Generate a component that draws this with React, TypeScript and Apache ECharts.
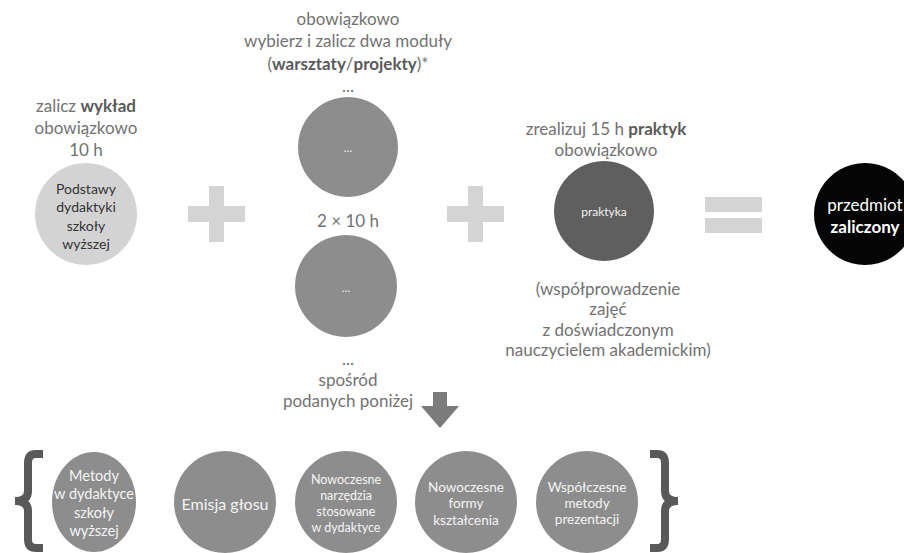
import React, { useEffect, useRef } from "react";
import * as echarts from "echarts";

// ---- data ----
const lectureLabel = ["zalicz {b|wykład}", "obowiązkowo", "10 h"];
const lectureCircle = ["Podstawy", "dydaktyki", "szkoły", "wyższej"];
const modulesLabel = ["obowiązkowo", "wybierz i zalicz dwa moduły", "({b|warsztaty}/{b|projekty})*", "..."];
const modulesMid = "2 × 10 h";
const moduleCircle = "...";
const modulesBelow = ["...", "spośród", "podanych poniżej"];
const practiceLabel = ["zrealizuj 15 h {b|praktyk}", "obowiązkowo"];
const practiceCircle = "praktyka";
const practiceBelow = ["(współprowadzenie", "zajęć", "z doświadczonym", "nauczycielem akademickim)"];
const resultCircle = ["przedmiot", "{b|zaliczony}"];
const optionModules = [
  ["Metody", "w dydaktyce", "szkoły", "wyższej"],
  ["Emisja głosu"],
  ["Nowoczesne", "narzędzia", "stosowane", "w dydaktyce"],
  ["Nowoczesne", "formy", "kształcenia"],
  ["Współczesne", "metody", "prezentacji"],
];

const FONT = "Lato, 'Noto Sans', sans-serif";

function lines(
  arr: string[],
  cx: number,
  y0: number,
  lh: number,
  size: number,
  fill: string,
  boldFill?: string
) {
  return arr.map((t, i) => ({
    type: "text",
    x: cx,
    y: y0 + i * lh,
    style: {
      text: t,
      fontFamily: FONT,
      fontSize: size,
      fill,
      align: "center",
      verticalAlign: "middle",
      rich: {
        b: { fontFamily: FONT, fontSize: size, fontWeight: "bold", fill: boldFill || fill },
      },
    },
  }));
}

const LEFT_BRACE = "M33,3 L26,3 Q18,3 18,12 L18,40 Q18,50 5,50 Q18,50 18,60 L18,88 Q18,97 26,97 L33,97";
const RIGHT_BRACE = "M3,3 L10,3 Q18,3 18,12 L18,40 Q18,50 31,50 Q18,50 18,60 L18,88 Q18,97 10,97 L3,97";

echarts.graphic.registerShape("leftBrace", echarts.graphic.extendPath(LEFT_BRACE, {}));
echarts.graphic.registerShape("rightBrace", echarts.graphic.extendPath(RIGHT_BRACE, {}));

export default function App() {
  const ref = useRef<HTMLDivElement>(null);
  useEffect(() => {
    if (!ref.current) return;
    const chart = echarts.init(ref.current, undefined, { renderer: "svg" });
    const textGray = "#727272";
    const boldGray = "#5a5a5a";
    const lightShape = "#d4d4d4";
    const midGray = "#8d8d8d";

    const bottomCx = [94, 225, 346, 466, 587];
    const bottomSizes = [14.5, 16, 12.5, 13.5, 13.5];
    const bottomLH = [18.5, 18, 16, 16.5, 16];

    const elements: any[] = [];

    // left lecture
    elements.push(...lines(lectureLabel, 86, 105, 22, 17, textGray, boldGray));
    elements.push({ type: "circle", shape: { cx: 86, cy: 214, r: 51 }, style: { fill: "#d3d3d3" } });
    elements.push(...lines(lectureCircle, 86, 188, 18.5, 14, "#333333"));

    // plus 1
    elements.push({ type: "rect", shape: { x: 188, y: 206, width: 57, height: 16 }, style: { fill: lightShape } });
    elements.push({ type: "rect", shape: { x: 209, y: 186, width: 15, height: 56 }, style: { fill: lightShape } });

    // modules
    elements.push(...lines(modulesLabel, 348, 18, 22.5, 17, textGray, boldGray));
    elements.push({ type: "circle", shape: { cx: 348, cy: 147, r: 50 }, style: { fill: midGray } });
    elements.push(...lines([moduleCircle], 348, 147, 16, 12, "#f2f2f2"));
    elements.push(...lines([modulesMid], 348, 220, 20, 17, textGray));
    elements.push({ type: "circle", shape: { cx: 346, cy: 286, r: 51 }, style: { fill: midGray } });
    elements.push(...lines([moduleCircle], 346, 287, 16, 12, "#f2f2f2"));
    elements.push(...lines(modulesBelow, 348, 358, 21, 17, textGray));

    // arrow
    elements.push({
      type: "polygon",
      shape: { points: [[433, 392], [447, 392], [447, 406], [459, 406], [440, 428], [421, 406], [433, 406]] },
      style: { fill: "#7b7b7b" },
    });

    // plus 2
    elements.push({ type: "rect", shape: { x: 447, y: 206, width: 57, height: 16 }, style: { fill: lightShape } });
    elements.push({ type: "rect", shape: { x: 468, y: 186, width: 15, height: 56 }, style: { fill: lightShape } });

    // practice
    elements.push(...lines(practiceLabel, 606, 128, 21, 17, textGray, boldGray));
    elements.push({ type: "circle", shape: { cx: 604, cy: 211, r: 50 }, style: { fill: "#5f5f5f" } });
    elements.push(...lines([practiceCircle], 604, 211, 16, 12, "#f0f0f0"));
    elements.push(...lines(practiceBelow, 608, 288, 20.5, 17, textGray));

    // equals
    elements.push({ type: "rect", shape: { x: 705, y: 197, width: 57, height: 15 }, style: { fill: lightShape } });
    elements.push({ type: "rect", shape: { x: 705, y: 218, width: 57, height: 15 }, style: { fill: lightShape } });

    // result
    elements.push({ type: "circle", shape: { cx: 865, cy: 214, r: 51 }, style: { fill: "#050505" } });
    elements.push(...lines(resultCircle, 865, 204, 22, 17, "#ffffff", "#ffffff"));

    // braces
    elements.push({
      type: "leftBrace",
      x: 10,
      y: 451,
      style: { fill: "none", stroke: "#595959", lineWidth: 8, lineJoin: "miter" },
    });
    elements.push({
      type: "rightBrace",
      x: 647,
      y: 451,
      style: { fill: "none", stroke: "#595959", lineWidth: 8, lineJoin: "miter" },
    });

    // bottom option modules
    optionModules.forEach((m, i) => {
      const cx = bottomCx[i];
      if (i === 0) {
        elements.push({ type: "ellipse", shape: { cx, cy: 502, rx: 42, ry: 50 }, style: { fill: midGray } });
      } else {
        elements.push({ type: "circle", shape: { cx, cy: 502, r: 51 }, style: { fill: midGray } });
      }
      const lh = bottomLH[i];
      const y0 = 503 - ((m.length - 1) * lh) / 2;
      elements.push(...lines(m, cx, y0, lh, bottomSizes[i], "#f4f4f4"));
    });

    chart.setOption({
      animation: false,
      backgroundColor: "#ffffff",
      graphic: { elements },
    });
    return () => chart.dispose();
  }, []);
  return (
    <div
      ref={ref}
      style={{ position: "fixed", left: 0, top: 0, width: 904, height: 553 }}
    />
  );
}
